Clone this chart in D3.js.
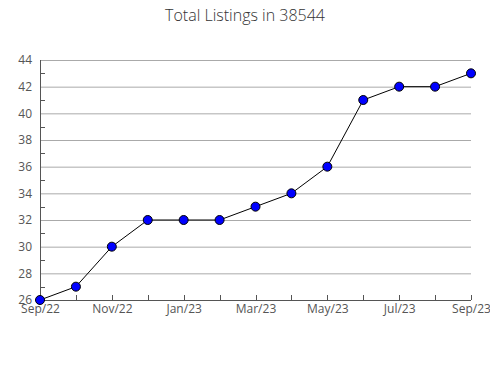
<!DOCTYPE html>
<html>
<head>
<meta charset="utf-8">
<script src="https://cdnjs.cloudflare.com/ajax/libs/d3/7.8.5/d3.min.js"></script>
<style>
  body { margin: 0; background: #fff; }
  text { font-family: "Open Sans", sans-serif; }
</style>
</head>
<body>
<div id="vis"></div>
<script>
var months = ["Sep/22", "Oct/22", "Nov/22", "Dec/22", "Jan/23", "Feb/23", "Mar/23",
              "Apr/23", "May/23", "Jun/23", "Jul/23", "Aug/23", "Sep/23"];
var listings = [26, 27, 30, 32, 32, 32, 33, 34, 36, 41, 42, 42, 43];
var yTicks = [26, 28, 30, 32, 34, 36, 38, 40, 42, 44];
var yMinorTicks = [27, 29, 31, 33, 35, 37, 39, 41, 43];

var width = 490, height = 380;
var margin = { left: 40, right: 19, top: 60, bottom: 80 };
var drawWidth = width - margin.left - margin.right;
var drawHeight = height - margin.top - margin.bottom;

var svg = d3.select("#vis").append("svg")
    .attr("width", width)
    .attr("height", height);

svg.append("text")
    .attr("x", width / 2)
    .attr("y", 21)
    .attr("text-anchor", "middle")
    .style("font-size", "16px")
    .style("font-weight", 300)
    .style("fill", "#333")
    .text("Total Listings in 38544");

var g = svg.append("g")
    .attr("transform", "translate(" + margin.left + "," + margin.top + ")");

var xScale = d3.scalePoint().domain(months).range([0, drawWidth]);
var yScale = d3.scaleLinear().domain([26, 44]).range([drawHeight, 0]);

// grid lines
g.selectAll(".grid").data(yTicks.slice(1)).enter().append("line")
    .attr("x1", 0).attr("x2", drawWidth)
    .attr("y1", function(d) { return yScale(d) + 0.5; })
    .attr("y2", function(d) { return yScale(d) + 0.5; })
    .attr("stroke", "#aaa")
    .attr("stroke-width", 1);

// y axis
var yAxis = d3.axisLeft(yScale).tickValues(yTicks).tickSize(0).tickPadding(8);
var yAxisG = g.append("g").call(yAxis);
yAxisG.select(".domain").remove();
yAxisG.selectAll("text").style("font-size", "12px").style("fill", "#555")
    .style("font-family", "'Open Sans', sans-serif");

g.selectAll(".minor").data(yMinorTicks).enter().append("line")
    .attr("x1", 0).attr("x2", 5)
    .attr("y1", function(d) { return Math.round(yScale(d)) + 0.5; })
    .attr("y2", function(d) { return Math.round(yScale(d)) + 0.5; })
    .attr("stroke", "#555");

g.append("line")
    .attr("x1", 0.5).attr("x2", 0.5)
    .attr("y1", 0).attr("y2", drawHeight)
    .attr("stroke", "#555");

// x axis
var xAxis = d3.axisBottom(xScale).tickSize(0).tickPadding(4)
    .tickFormat(function(d, i) { return i % 2 === 0 ? d : ""; });
var xAxisG = g.append("g")
    .attr("transform", "translate(0," + drawHeight + ")")
    .call(xAxis);
xAxisG.select(".domain").remove();
xAxisG.selectAll("text").style("font-size", "12px").style("fill", "#555")
    .style("font-family", "'Open Sans', sans-serif");

g.selectAll(".xtick").data(months).enter().append("line")
    .attr("x1", function(d) { return Math.round(xScale(d)) + 0.5; })
    .attr("x2", function(d) { return Math.round(xScale(d)) + 0.5; })
    .attr("y1", drawHeight - 5).attr("y2", drawHeight)
    .attr("stroke", "#555");

g.append("line")
    .attr("x1", 0).attr("x2", drawWidth)
    .attr("y1", drawHeight + 0.5).attr("y2", drawHeight + 0.5)
    .attr("stroke", "#555");

// line
var line = d3.line()
    .x(function(d, i) { return xScale(months[i]); })
    .y(function(d) { return yScale(d); });

g.append("path")
    .datum(listings)
    .attr("fill", "none")
    .attr("stroke", "#000")
    .attr("stroke-width", 1)
    .attr("d", line);

g.selectAll(".dot").data(listings).enter().append("circle")
    .attr("cx", function(d, i) { return xScale(months[i]); })
    .attr("cy", function(d) { return yScale(d); })
    .attr("r", 4.5)
    .attr("fill", "#0000ff")
    .attr("stroke", "#000")
    .attr("stroke-width", 1);
</script>
</body>
</html>
